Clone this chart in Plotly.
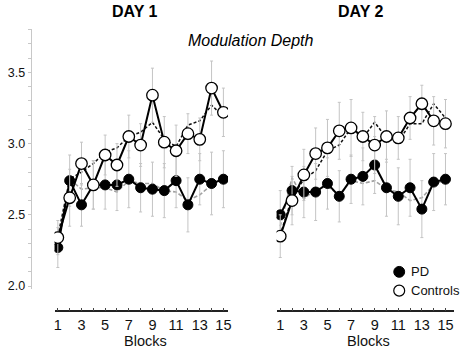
import plotly.graph_objects as go

W, H = 461, 349

blocks = list(range(1, 16))
block_labels = [str(b) if b % 2 == 1 else "" for b in blocks]

# Day 1
d1_controls = [2.34, 2.62, 2.86, 2.71, 2.92, 2.85, 3.05, 2.99, 3.34, 3.01, 2.95, 3.07, 3.03, 3.39, 3.22]
d1_controls_err = [0.12, 0.2, 0.15, 0.17, 0.14, 0.15, 0.15, 0.15, 0.19, 0.18, 0.18, 0.14, 0.15, 0.19, 0.17]
d1_pd = [2.27, 2.74, 2.57, 2.71, 2.71, 2.71, 2.75, 2.69, 2.68, 2.67, 2.74, 2.57, 2.75, 2.72, 2.75]
d1_pd_err = [0.14, 0.18, 0.15, 0.17, 0.17, 0.18, 0.2, 0.17, 0.19, 0.19, 0.19, 0.19, 0.18, 0.22, 0.2]
d1_controls_model = [2.35, 2.75, 2.80, 2.86, 2.94, 2.97, 3.05, 3.08, 3.15, 3.03, 2.98, 3.13, 3.16, 3.27, 3.19]
d1_pd_model = [2.30, 2.75, 2.68, 2.69, 2.69, 2.66, 2.74, 2.72, 2.72, 2.67, 2.66, 2.60, 2.64, 2.71, 2.75]

# Day 2
d2_controls = [2.35, 2.60, 2.78, 2.93, 2.97, 3.09, 3.11, 3.05, 2.99, 3.05, 3.04, 3.18, 3.28, 3.16, 3.14]
d2_controls_err = [0.15, 0.17, 0.18, 0.18, 0.2, 0.2, 0.2, 0.17, 0.2, 0.18, 0.15, 0.15, 0.13, 0.17, 0.17]
d2_pd = [2.50, 2.67, 2.66, 2.66, 2.72, 2.63, 2.75, 2.77, 2.85, 2.69, 2.63, 2.69, 2.54, 2.73, 2.75]
d2_pd_err = [0.17, 0.17, 0.18, 0.2, 0.18, 0.18, 0.17, 0.2, 0.2, 0.2, 0.2, 0.2, 0.2, 0.2, 0.18]
d2_controls_model = [2.36, 2.62, 2.75, 2.81, 2.95, 2.99, 3.11, 3.04, 3.15, 3.04, 3.01, 3.14, 3.14, 3.28, 3.18]
d2_pd_model = [2.42, 2.76, 2.61, 2.68, 2.70, 2.64, 2.74, 2.72, 2.74, 2.68, 2.66, 2.60, 2.62, 2.71, 2.75]

y_ticks = [round(2.0 + 0.1 * i, 1) for i in range(19)]
y_ticktext = [f"{v:.1f}" if abs(v * 2 - round(v * 2)) < 1e-6 else "" for v in y_ticks]

FONT = "Liberation Sans, Arial, sans-serif"
ERR_COLOR = "#c4c4c4"

fig = go.Figure()


def add_day(xa, ctrl, ctrl_err, pd, pd_err, ctrl_model, pd_model):
    fig.add_trace(go.Scatter(
        x=blocks, y=pd_model, xaxis=xa, yaxis="y", mode="lines",
        line=dict(color="#a0a0a0", width=1.6, dash="4px,2px"), showlegend=False))
    fig.add_trace(go.Scatter(
        x=blocks, y=ctrl_model, xaxis=xa, yaxis="y", mode="lines",
        line=dict(color="#111111", width=1.5, dash="3px,2px"), showlegend=False))
    fig.add_trace(go.Scatter(
        x=blocks, y=pd, xaxis=xa, yaxis="y", mode="lines+markers",
        line=dict(color="black", width=2),
        marker=dict(color="black", size=10, line=dict(color="black", width=1)),
        error_y=dict(type="data", array=pd_err, color=ERR_COLOR, thickness=1, width=1.5),
        name="PD", showlegend=False))
    fig.add_trace(go.Scatter(
        x=blocks, y=ctrl, xaxis=xa, yaxis="y", mode="lines+markers",
        line=dict(color="black", width=2),
        marker=dict(color="white", size=11.5, line=dict(color="black", width=1.3)),
        error_y=dict(type="data", array=ctrl_err, color=ERR_COLOR, thickness=1, width=1.5),
        name="Controls", showlegend=False))


add_day("x", d1_controls, d1_controls_err, d1_pd, d1_pd_err, d1_controls_model, d1_pd_model)
add_day("x2", d2_controls, d2_controls_err, d2_pd, d2_pd_err, d2_controls_model, d2_pd_model)


def px(x):
    return x / W


def py(y):
    return 1 - y / H


xaxis_common = dict(
    anchor="free", position=py(315), showline=True, linecolor="#222222", linewidth=1.5,
    ticks="inside", ticklen=3, tickcolor="#444444", tickwidth=1,
    tickmode="array", tickvals=blocks, ticktext=block_labels,
    tickfont=dict(family=FONT, size=14.5, color="#111111"),
    showgrid=False, zeroline=False,
)

fig.update_layout(
    width=W, height=H, autosize=False,
    margin=dict(l=0, r=0, t=0, b=0),
    paper_bgcolor="white", plot_bgcolor="white",
    showlegend=False,
    xaxis=dict(domain=[px(54), px(229)], range=[0.72, 15.39], **xaxis_common),
    xaxis2=dict(domain=[px(278), px(456.7)], range=[0.69, 15.7], **xaxis_common),
    yaxis=dict(
        domain=[py(292.2), py(29.2)], range=[1.98, 3.806],
        anchor="free", position=px(30),
        showline=True, linecolor="#c8c8c8", linewidth=1,
        ticks="outside", ticklen=3, tickcolor="#c8c8c8",
        tickmode="array", tickvals=y_ticks, ticktext=y_ticktext,
        tickfont=dict(family=FONT, size=12.5, color="#111111"),
        showgrid=False, zeroline=False,
    ),
)

annotations = [
    dict(text="<b>DAY 1</b>", x=px(135), y=py(12), font=dict(family=FONT, size=16, color="black")),
    dict(text="<b>DAY 2</b>", x=px(363), y=py(12), font=dict(family=FONT, size=16, color="black")),
    dict(text="<i>Modulation Depth</i>", x=px(252), y=py(41), font=dict(family=FONT, size=16, color="black")),
    dict(text="Blocks", x=px(146), y=py(344.5), font=dict(family=FONT, size=14.5, color="#111111")),
    dict(text="Blocks", x=px(371), y=py(344.5), font=dict(family=FONT, size=14.5, color="#111111")),
    dict(text="PD", x=px(412), y=py(275), xanchor="left", font=dict(family=FONT, size=13, color="#111111")),
    dict(text="Controls", x=px(412), y=py(294), xanchor="left", font=dict(family=FONT, size=13, color="#111111")),
]
for a in annotations:
    a.setdefault("xanchor", "center")
    a.update(xref="paper", yref="paper", yanchor="middle", showarrow=False)
fig.update_layout(annotations=annotations)

r = 5.5
fig.update_layout(shapes=[
    dict(type="circle", xref="paper", yref="paper",
         x0=px(401.7 - r), x1=px(401.7 + r), y0=py(275 + r), y1=py(275 - r),
         fillcolor="black", line=dict(color="black", width=1)),
    dict(type="circle", xref="paper", yref="paper",
         x0=px(401.7 - r), x1=px(401.7 + r), y0=py(294 + r), y1=py(294 - r),
         fillcolor="white", line=dict(color="black", width=1.2)),
])

fig.write_html(
    "out.html",
    config={"displayModeBar": False},
    post_script="document.body.style.margin='0';document.body.style.overflow='hidden';",
)
